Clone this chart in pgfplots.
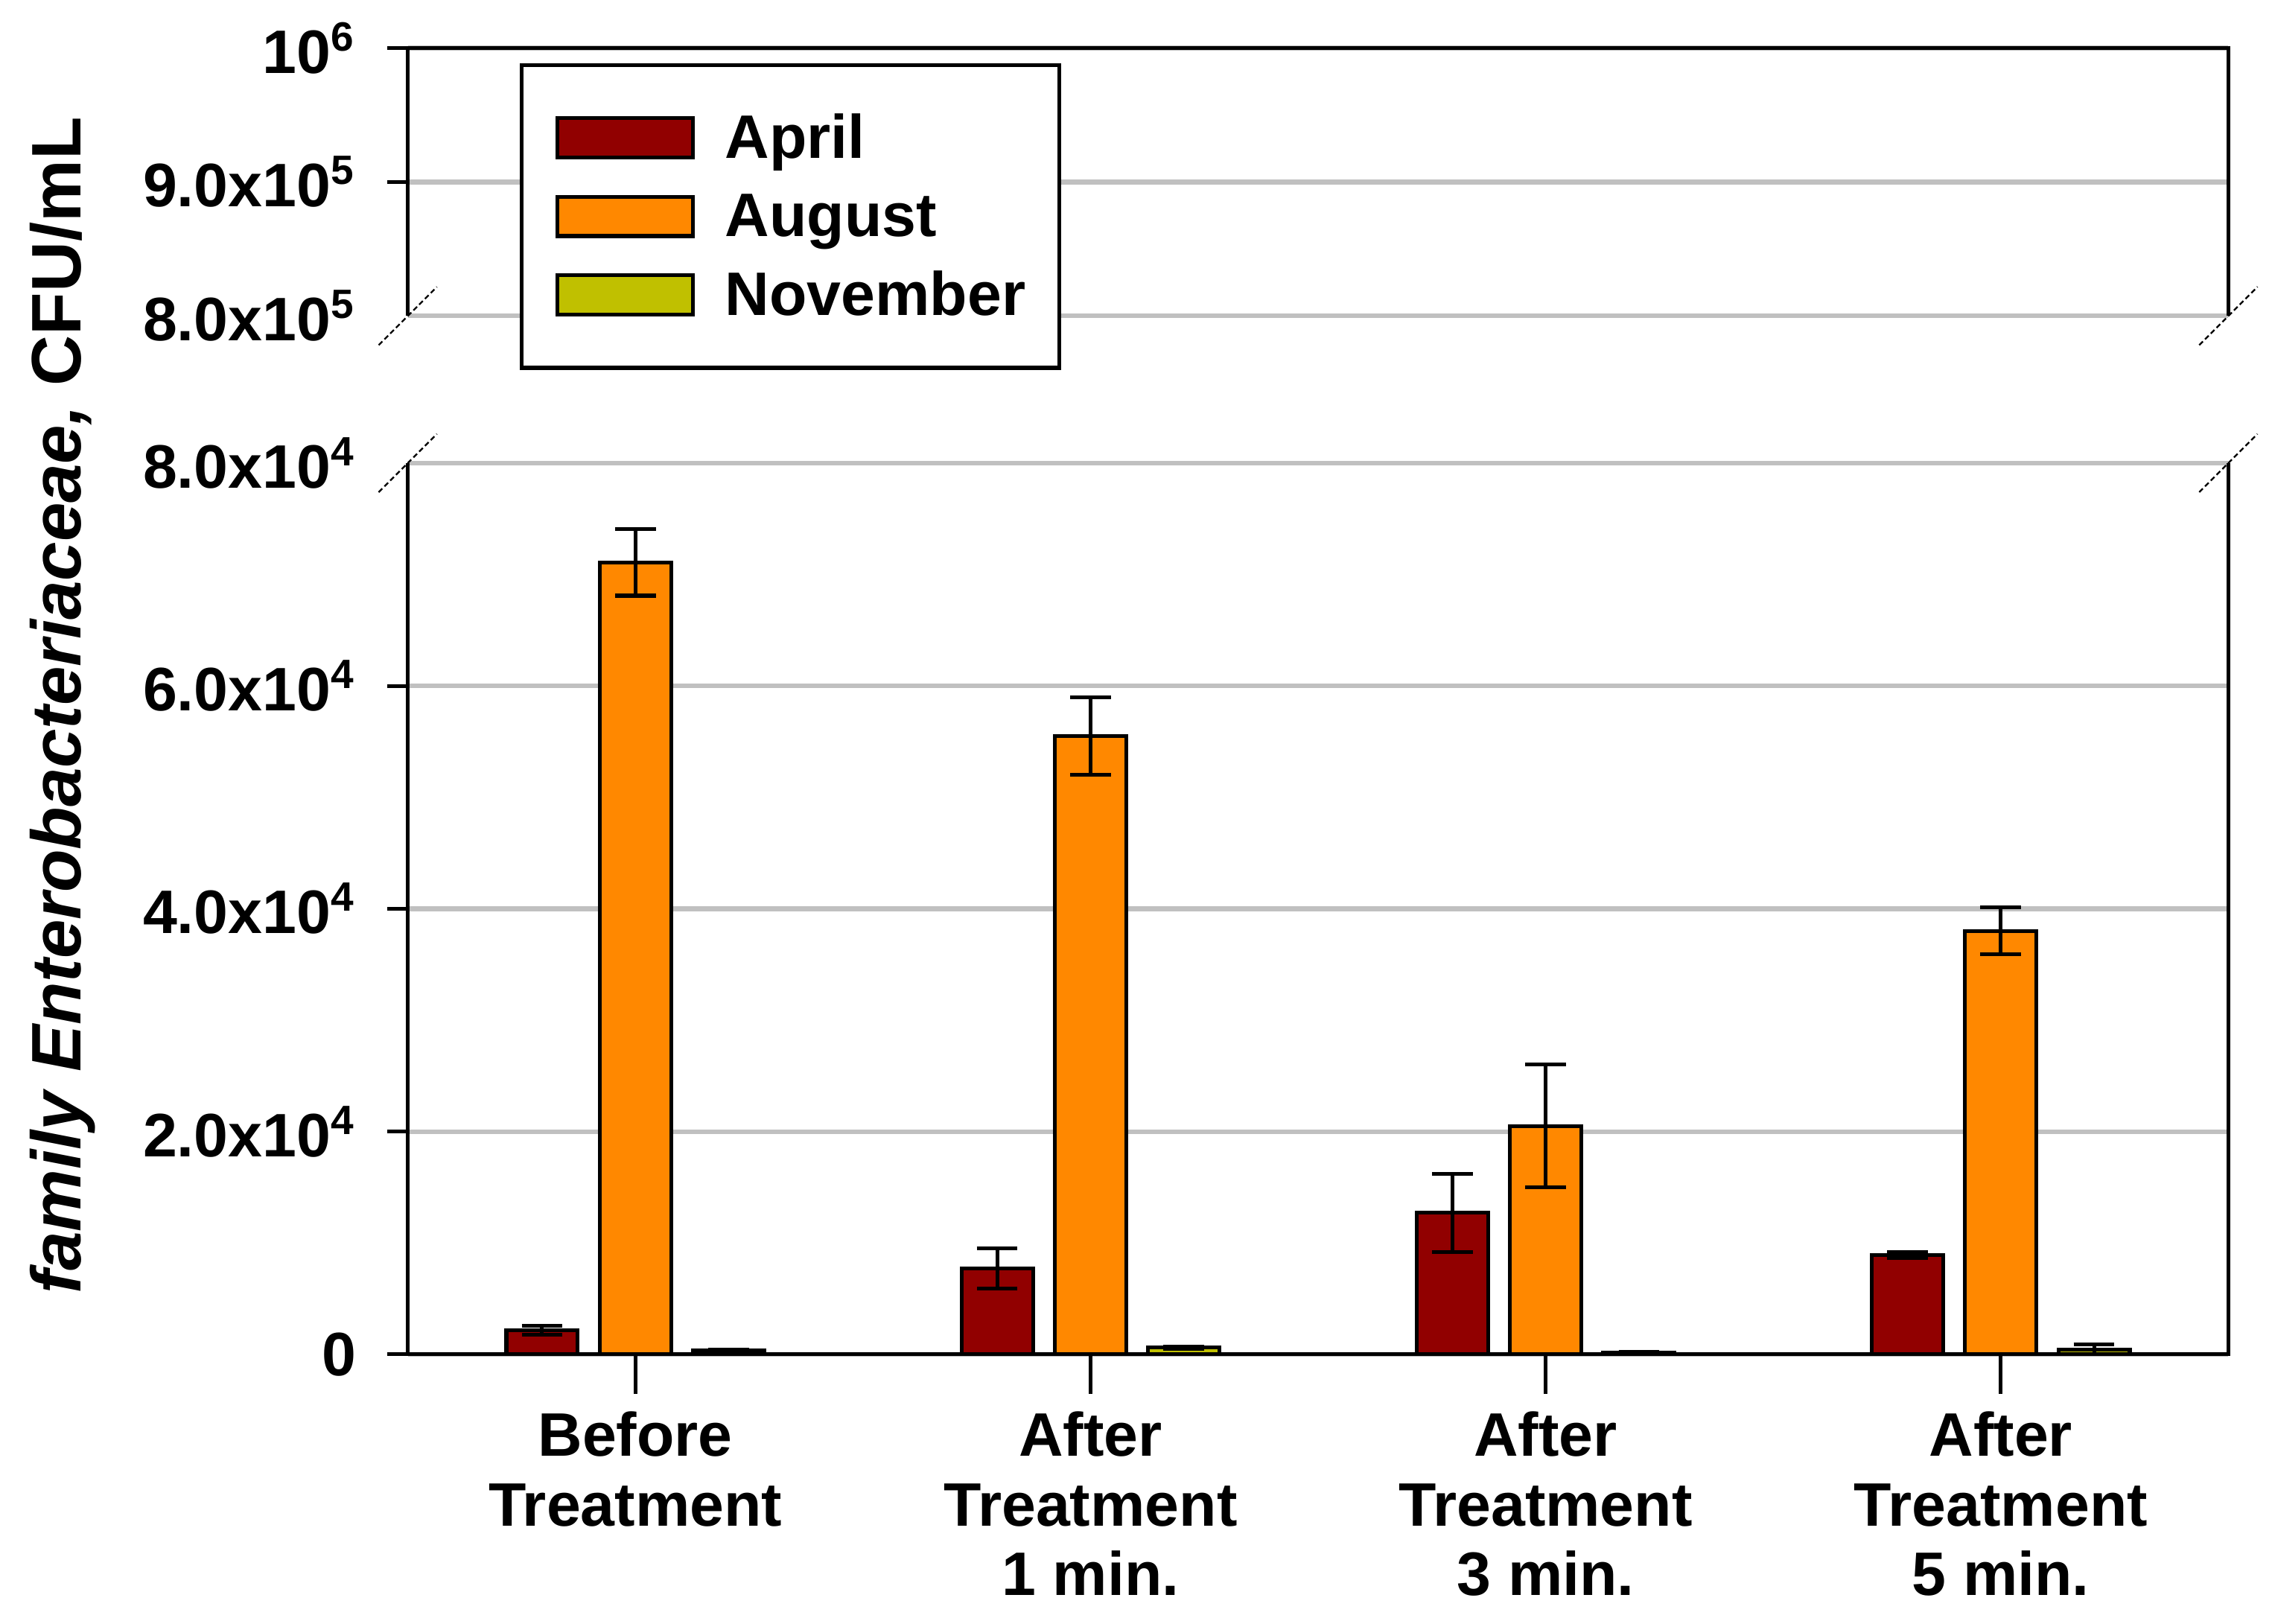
\documentclass[border=0pt]{standalone}
\usepackage{fontspec}
\setmainfont{Liberation Sans}
\usepackage{pgfplots}
\pgfplotsset{compat=1.18}

\definecolor{april}{HTML}{910000}
\definecolor{august}{HTML}{FF8800}
\definecolor{november}{HTML}{C0C000}
\definecolor{gridgray}{HTML}{C0C0C0}

\newcommand{\lab}{\fontsize{12}{13.6}\selectfont\bfseries}

\pgfplotsset{
  brk/.style={
    scale only axis, width=12.5cm, xmin=-0.5, xmax=3.5,
    axis line style={draw=none},
    tick align=outside, ytick pos=left, xtick pos=bottom,
    scaled y ticks=false,
    ymajorgrids, major grid style={gridgray, line width=0.9pt},
    major tick style={black, line width=0.75pt},
    major tick length=1.4mm,
    tick label style={font=\lab},
    yticklabel style={xshift=-0.9mm},
    clip=false,
  },
  swatch/.style={legend image code/.code={
    \draw[fill=#1, draw=black, line width=0.75pt] (0cm,-0.135cm) rectangle (0.93cm,0.135cm);}},
}

\begin{document}
\begin{tikzpicture}
\useasboundingbox (0,0) rectangle (15.6,11.15);

% upper part of the broken axis
\begin{axis}[brk, height=1.84cm, at={(2.8cm,8.98cm)}, anchor=south west,
  ymin=800000, ymax=1000000, xtick=\empty,
  ytick={900000,1000000},
  yticklabels={9.0x10\textsuperscript{5},10\textsuperscript{6}},
  extra y ticks={800000},
  extra y tick labels={8.0x10\textsuperscript{5}},
  extra y tick style={major tick style={draw=none}}]
\draw[line width=0.75pt] (rel axis cs:0,0) -- (rel axis cs:0,1) -- (rel axis cs:1,1) -- (rel axis cs:1,0);
\end{axis}

% lower part
\begin{axis}[brk, height=6.12cm, at={(2.8cm,1.85cm)}, anchor=south west,
  ymin=0, ymax=80000,
  ybar, bar width=0.157,
  xtick=\empty,
  extra x ticks={0,1,2,3},
  extra x tick labels={{Before\\Treatment},{After\\Treatment\\1 min.},{After\\Treatment\\3 min.},{After\\Treatment\\5 min.}},
  extra x tick style={major tick length=2.7mm, xticklabel style={align=center}},
  ytick={0,20000,40000,60000},
  yticklabels={0,2.0x10\textsuperscript{4},4.0x10\textsuperscript{4},6.0x10\textsuperscript{4}},
  extra y ticks={80000},
  extra y tick labels={8.0x10\textsuperscript{4}},
  extra y tick style={major tick style={draw=none}},
  legend cell align=left,
  legend style={at={(0.0616,1.449)}, anchor=north west, draw=black, line width=0.75pt,
    fill=white, inner xsep=2.3mm, inner ysep=3.4mm, row sep=2.2mm, column sep=2.1mm,
    font=\lab, nodes={inner sep=0pt, text height=3.0mm, text depth=0.2mm}},
  error bars/error bar style={black, line width=0.75pt},
  error bars/error mark options={black, mark size=1.4mm, line width=0.75pt, rotate=90},
]
\addplot[fill=april, draw=black, line width=0.75pt, bar shift=-0.205, swatch=april,
  error bars/.cd, y dir=both, y explicit] coordinates {
  (0,2150) +- (0,400)
  (1,7700) +- (0,1800)
  (2,12700) +- (0,3500)
  (3,8900) +- (0,250)
};
\addplot[fill=august, draw=black, line width=0.75pt, bar shift=0, swatch=august,
  error bars/.cd, y dir=both, y explicit] coordinates {
  (0,71100) +- (0,3000)
  (1,55500) +- (0,3500)
  (2,20500) +- (0,5500)
  (3,38000) +- (0,2100)
};
\addplot[fill=november, draw=black, line width=0.75pt, bar shift=0.205, swatch=november,
  error bars/.cd, y dir=both, y explicit] coordinates {
  (0,350) +- (0,100)
  (1,600) +- (0,120)
  (2,150) +- (0,50)
  (3,450) +- (0,450)
};
\legend{April,August,November}
\draw[line width=0.75pt] (rel axis cs:0,1) -- (rel axis cs:0,0) -- (rel axis cs:1,0) -- (rel axis cs:1,1);
\end{axis}

% break marks
\foreach \x in {2.8,15.3}
  \foreach \y in {8.98,7.97}
    \draw[line width=0.35pt, dash pattern=on 1pt off 0.6pt] ({\x-0.2},{\y-0.2}) -- ++(0.4,0.4);

\node[rotate=90, anchor=base, inner sep=0pt, font=\fontsize{13.7}{16}\selectfont\bfseries]
  at (0.554,6.305) {\textit{family Enterobacteriaceae,} CFU/mL};
\end{tikzpicture}
\end{document}
